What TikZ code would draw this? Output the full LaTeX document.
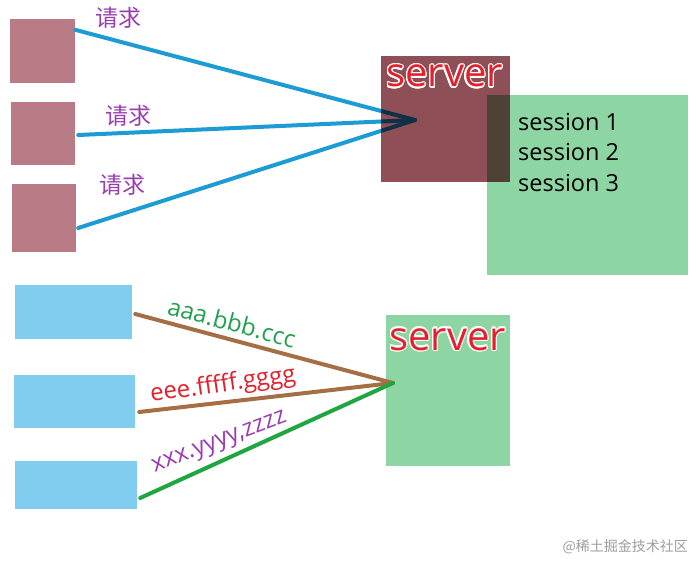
\documentclass[tikz,border=0pt]{standalone}
\usepackage{fontspec}
\setmainfont{Open Sans}
\newfontfamily\cjk{Noto Sans CJK SC}
\usepackage[copies]{contour}
\contourlength{1.2pt}
\definecolor{pinkbox}{HTML}{B97C86}
\definecolor{srvred}{HTML}{8E4F56}
\definecolor{sessgreen}{HTML}{8DD6A3}
\definecolor{lightblue}{HTML}{80CDEF}
\definecolor{linkblue}{HTML}{1C9BD5}
\definecolor{linkbrown}{HTML}{A66E45}
\definecolor{linkgreen}{HTML}{20A640}
\definecolor{txtpurple}{HTML}{9A3DB0}
\definecolor{txtred}{HTML}{E3202C}
\definecolor{txtgreen}{HTML}{22A050}
\begin{document}
\begin{tikzpicture}[x=1pt,y=-1pt,
  client/.style={fill=pinkbox,draw=none,inner sep=0pt},
  bclient/.style={fill=lightblue,draw=none,inner sep=0pt},
  bluelink/.style={linkblue,line width=4pt,line cap=round},
  brownlink/.style={linkbrown,line width=4pt,line cap=round},
  greenlink/.style={linkgreen,line width=4pt,line cap=round},
  reqlabel/.style={font=\cjk\fontsize{23}{26}\selectfont,text=txtpurple,inner sep=0pt},
  srvlabel/.style={font=\fontsize{40}{44}\selectfont,text=txtred,inner sep=0pt,anchor=base west},
  keylabel/.style={font=\fontsize{24}{27}\selectfont,inner sep=0pt},
]
\useasboundingbox (0,0) rectangle (696,564);
\fill[white] (0,0) rectangle (696,564);

% top part
\node[client,minimum width=65pt,minimum height=64pt] (c1) at (42.5,51) {};
\node[client,minimum width=64pt,minimum height=63pt] (c2) at (43,133.5) {};
\node[client,minimum width=64pt,minimum height=68pt] (c3) at (44,218) {};
\node[fill=sessgreen,inner sep=0pt,minimum width=201pt,minimum height=180pt] (sess) at (587.5,185) {};
\coordinate (hubA) at (415,120);
\draw[bluelink] ([yshift=-11pt]c1.north east) -- (hubA);
\draw[bluelink] ([xshift=3pt,yshift=-1.5pt]c2.east) -- (hubA);
\draw[bluelink] ([xshift=2pt,yshift=-10pt]c3.east) -- (hubA);
\begin{scope}[blend mode=multiply]
\node[fill=srvred,inner sep=0pt,minimum width=129pt,minimum height=126pt] (srvA) at (445.5,119) {};
\end{scope}
\node[srvlabel] (srvAlab) at (386,87) {\contour{white}{server}};
\node[reqlabel] (r1) at (118,18) {\contour{white}{请求}};
\node[reqlabel] (r2) at (128,116) {\contour{white}{请求}};
\node[reqlabel] (r3) at (122,185) {\contour{white}{请求}};
\node[font=\fontsize{23.5}{30.5}\selectfont,align=left,anchor=north west,inner sep=0pt] (sesstxt) at (518,113)
  {session 1\\session 2\\session 3};

% bottom part
\node[bclient,minimum width=117pt,minimum height=54pt] (c4) at (73.5,312) {};
\node[bclient,minimum width=121pt,minimum height=53pt] (c5) at (74.5,401.5) {};
\node[bclient,minimum width=122pt,minimum height=48pt] (c6) at (76,485) {};
\node[fill=sessgreen,inner sep=0pt,minimum width=124pt,minimum height=151pt] (srvB) at (448,390.5) {};
\node[srvlabel] (srvBlab) at (389,350) {\contour{white}{server}};
\coordinate (hubB) at (393,383);
\draw[brownlink] ([xshift=3pt,yshift=-2pt]c4.east) -- (hubB);
\draw[brownlink] ([xshift=4pt,yshift=-10.5pt]c5.east) -- (hubB);
\draw[greenlink] ([xshift=3pt,yshift=-13pt]c6.east) -- (hubB);
\node[keylabel,text=txtgreen,rotate=-15] (k1) at (232,323) {\contour{white}{aaa.bbb.ccc}};
\node[keylabel,text=txtred,rotate=8] (k2) at (223,386) {\contour{white}{eee.fffff.gggg}};
\node[keylabel,text=txtpurple,rotate=21] (k3) at (220,444) {\contour{white}{xxx.yyyy,zzzz}};

% watermark
\node[font=\cjk\fontsize{14}{16}\selectfont,text=black!38,anchor=east,inner sep=0pt] (wm) at (688,547) {@稀土掘金技术社区};
\end{tikzpicture}
\end{document}
